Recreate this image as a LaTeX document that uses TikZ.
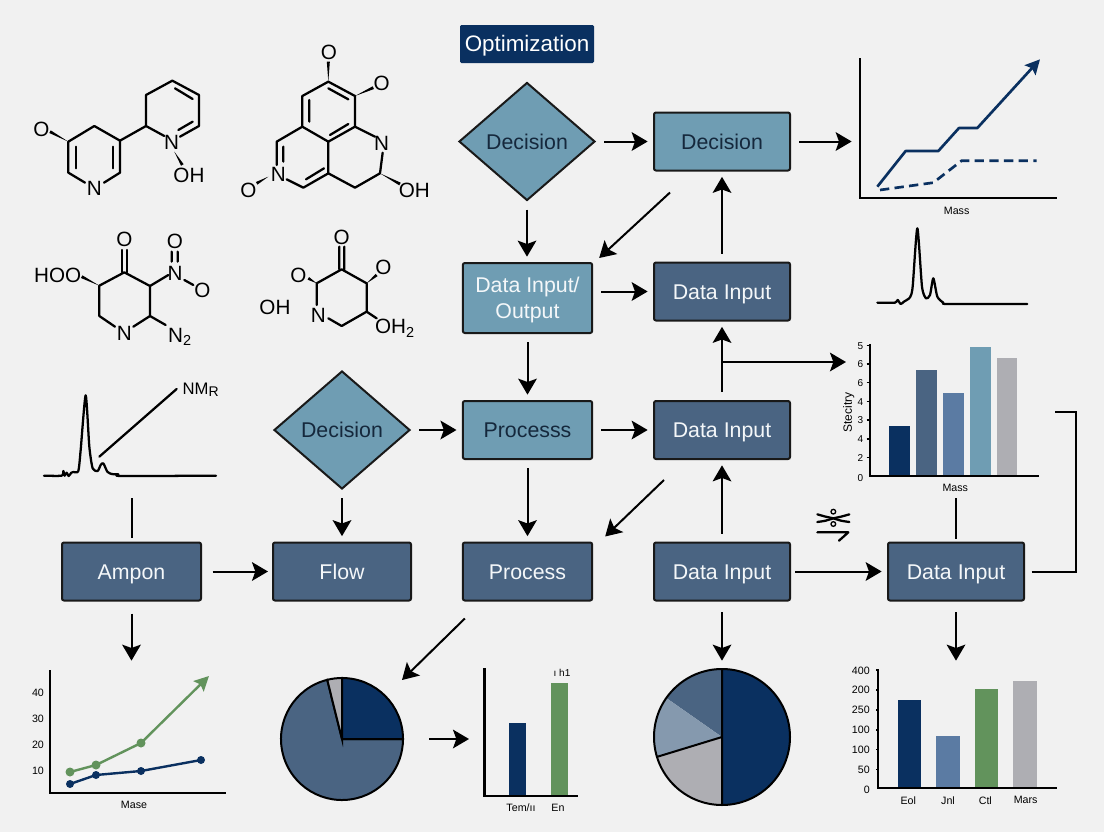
\documentclass[tikz,border=0pt]{standalone}
\usepackage{fontspec}
\setmainfont{Liberation Sans}
\usetikzlibrary{arrows.meta,calc,positioning,shapes.geometric}
\definecolor{pagegrey}{HTML}{F1F1F1}
\definecolor{navyblue}{HTML}{0A3060}
\definecolor{slateblue}{HTML}{4A6482}
\definecolor{midblue}{HTML}{5B7BA3}
\definecolor{paleblue}{HTML}{8599AE}
\definecolor{tealblue}{HTML}{6F9DB3}
\definecolor{softgrey}{HTML}{AEAEB3}
\definecolor{leafgreen}{HTML}{62935C}
\definecolor{inkdark}{HTML}{15283C}
\newcommand{\wedgebond}[2]{\fill (#1) -- ($(#2)!3.4pt!90:(#1)$) -- ($(#2)!3.4pt!-90:(#1)$) -- cycle;}
\tikzset{
  flowbox/.style={draw=black!90, line width=1.5pt, rounded corners=1.5pt, minimum width=102pt, minimum height=43.5pt, inner sep=0pt, align=center, font=\fontsize{16}{19.5}\selectfont},
  capcentre/.style={text height=11.5pt, text depth=0pt},
  darkbox/.style={flowbox, capcentre, fill=slateblue, text=white!92!tealblue},
  lightbox/.style={flowbox, capcentre, fill=tealblue, text=inkdark},
  ioflow/.style={flowbox, fill=tealblue, text=white!92!tealblue, minimum width=97pt, minimum height=52.5pt, text depth=0pt},
  procbox/.style={flowbox, minimum width=97pt},
  choice/.style={diamond, capcentre, aspect=1.15, draw=black!90, line width=1.5pt, fill=tealblue, text=inkdark, minimum width=102pt, minimum height=88.5pt, inner sep=0pt, font=\fontsize{16}{19.5}\selectfont},
  flow/.style={line width=1.5pt, -{Stealth[length=12pt,width=14pt,inset=2.5pt]}},
  gapped/.style={flow, shorten <=6pt, shorten >=4pt},
  link/.style={line width=1.5pt},
  atom/.style={inner sep=0pt, font=\fontsize{15.5}{18}\selectfont},
  bond/.style={line width=1.7pt, line cap=round, line join=round},
  trace/.style={line width=1.7pt, line join=round, line cap=round},
  axis/.style={line width=1.6pt},
  smalllab/.style={inner sep=0pt, font=\fontsize{8}{10}\selectfont},
  tinylab/.style={inner sep=0pt, font=\fontsize{7.5}{9}\selectfont}
}
\begin{document}
\begin{tikzpicture}[x=0.75pt, y=-0.75pt, node distance=48pt]
\fill[pagegrey] (0,0) rectangle (1104,832);
\useasboundingbox (0,0) rectangle (1104,832);

% flow chart
\node[capcentre, fill=navyblue, text=white, rounded corners=1pt, minimum width=100.5pt, minimum height=28.5pt, inner sep=0pt, font=\fontsize{16.8}{21}\selectfont] (optim) at (527,44) {Optimization};
\node[choice] (decA) at (527,141.5) {Decision};
\node[lightbox] (decB) at (722,141.5) {Decision};
\node[ioflow] (dataio) at (527.5,298) {Data Input/\\Output};
\node[darkbox] (dataA) at (722,291.5) {Data Input};
\node[lightbox, procbox] (procA) at (527.5,430) {Processs};
\node[darkbox] (dataB) at (722,430) {Data Input};
\node[choice] (decC) at (342,430) {Decision};
\node[darkbox, procbox] (procB) at (527.5,571.5) {Process};
\node[darkbox, minimum width=103.5pt] (flowbox) at (342,571.5) {Flow};
\node[darkbox, minimum width=104.25pt] (ampon) at (131.5,571.5) {Ampon};
\node[darkbox] (dataC) at (722,571.5) {Data Input};
\node[darkbox, right=72pt of dataC] (dataD) {Data Input};

\coordinate (chartIn) at (857,141.5);
\coordinate (barIn) at (846,362);
\coordinate (branch) at (722,362);
\coordinate (bracketEnd) at (1055,412);
\coordinate (specFoot) at (131.5,498);
\coordinate (massFoot) at (dataD |- specFoot);
\coordinate (lineIn) at (131.5,666);
\coordinate (pieTwoIn) at (722,666);
\coordinate (barsIn) at (dataD |- lineIn);
\coordinate (pieIn) at (402,680);
\coordinate (pieOut) at (429,739);
\coordinate (slimIn) at (469,739);

\draw[gapped] (decA) -- (decB);
\draw[gapped] (decB) -- (chartIn);
\draw[gapped] (decA) -- (dataio.north -| decA);
\draw[flow] ([shift={(17,21)}]decB.south west) -- ([shift={(6,-4)}]dataio.north east);
\draw[gapped] (dataio.east |- dataA) -- (dataA);
\draw[gapped] (dataA) -- (decB);
\draw[gapped] (dataio) -- (procA);
\draw[gapped] (dataB) -- (dataA);
\draw[flow] (branch) -- (barIn);
\draw[gapped] (procA) -- (dataB);
\draw[gapped] (decC) -- (procA);
\draw[gapped] (procA) -- (procB);
\draw[flow] ([shift={(11,20)}]dataB.south west) -- ([shift={(12,-5)}]procB.north east);
\draw[gapped] (dataC) -- (dataB);
\draw[gapped] (decC) -- (flowbox);
\draw[flow, shorten <=8pt, shorten >=3pt] (ampon) -- (flowbox);
\draw[gapped, shorten <=3pt] (dataC) -- (dataD);
\draw[link] ([xshift=5pt]dataD.east) -- ++(44,0) |- (bracketEnd);
\draw[link, shorten >=3pt] (specFoot) -- (ampon);
\draw[link, shorten >=2pt] (massFoot) -- (dataD);
\draw[gapped, shorten <=9pt] (ampon) -- (lineIn);
\draw[gapped, shorten <=8pt] (dataC) -- (pieTwoIn);
\draw[gapped, shorten <=8pt] (dataD) -- (barsIn);
\draw[flow] ([shift={(3,17)}]procB.south west) -- (pieIn);
\draw[flow] (pieOut) -- (slimIn);

% molecules
\begin{scope}[shift={(0,20)}, scale=1/3]
\draw[bond] (255,488) -- (205,458) -- (205,365) -- (283,318) -- (360,362) -- (360,458) -- (312,488);
\draw[bond] (228,380) -- (228,445) (338,380) -- (338,445);
\draw[bond] (360,362) -- (438,318) -- (438,225) -- (517,182) -- (597,225) -- (597,318) -- (540,350);
\draw[bond] (438,318) -- (493,348) (525,205) -- (578,237) (578,305) -- (535,330);
\wedgebond{205,365}{150,335}
\wedgebond{523,395}{547,435}
\node[atom] (oneO) at (124,327) {O};
\node[atom] (oneN) at (283,505) {N};
\node[atom] (oneNb) at (515,368) {N};
\node[atom] (oneOH) at (567,467) {OH};

\draw[bond] (985,185) -- (1065,228) -- (1065,320) -- (985,365) -- (907,320) -- (907,228) -- cycle;
\draw[bond] (985,205) -- (1045,238) (1045,312) -- (990,345) (928,240) -- (928,305);
\draw[bond] (907,320) -- (830,365) -- (830,435) (850,380) -- (850,425);
\draw[bond] (985,365) -- (985,460) -- (910,503) -- (860,478) (972,445) -- (918,478);
\draw[bond] (985,460) -- (1065,503) -- (1140,460) (1065,320) -- (1125,350);
\draw[bond] (1140,460) -- (1148,398);
\wedgebond{985,185}{985,125}
\wedgebond{1065,228}{1120,203}
\wedgebond{1140,460}{1200,492}
\wedgebond{805,470}{770,490}
\node[atom] (twoO) at (987,98) {O};
\node[atom] (twoOb) at (1145,190) {O};
\node[atom] (twoN) at (1145,370) {N};
\node[atom] (twoOH) at (1243,512) {OH};
\node[atom] (twoNb) at (835,463) {N};
\node[atom] (twoOc) at (745,510) {O};

\draw[bond] (345,920) -- (298,888) -- (298,797) -- (373,757) -- (450,798) -- (450,888) -- (400,920);
\draw[bond] (365,757) -- (365,690) (380,757) -- (380,690);
\draw[bond] (450,798) -- (505,765) (515,725) -- (515,695) (533,725) -- (533,695);
\draw[bond] (553,780) -- (580,795) (450,888) -- (497,915);
\wedgebond{298,797}{245,770}
\node[atom] (threeHO) at (173,765) {HOO};
\node[atom] (threeO) at (373,658) {O};
\node[atom] (threeOb) at (525,665) {O};
\node[atom] (threeN) at (525,760) {N};
\node[atom] (threeOc) at (607,812) {O};
\node[atom] (threeNb) at (373,940) {N};
\node[atom] (threeN2) at (540,950) {N\textsubscript{2}};

\draw[bond] (950,855) -- (950,790) -- (1025,748) -- (1100,790) -- (1100,875) -- (1025,918) -- (985,895);
\draw[bond] (1018,748) -- (1018,680) (1033,748) -- (1033,680) (1100,875) -- (1130,895);
\wedgebond{950,790}{925,775}
\wedgebond{1100,790}{1130,765}
\node[atom] (fourO) at (1025,652) {O};
\node[atom] (fourOb) at (895,765) {O};
\node[atom] (fourOc) at (1150,743) {O};
\node[atom] (fourOH) at (825,862) {OH};
\node[atom] (fourN) at (955,885) {N};
\node[atom] (fourOH2) at (1185,925) {OH\textsubscript{2}};
\end{scope}

% left spectrum
\begin{scope}[shift={(30,370)}, scale=1/3]
\draw[trace] plot[smooth, tension=0.4] coordinates {(42,317) (95,317) (100,303) (104,317) (110,308) (116,318) (124,308) (130,306) (145,303) (152,240) (167,76) (178,230) (188,295) (203,303) (212,285) (220,280) (232,305) (245,312) (265,313) (275,318) (558,317)};
\draw[trace] (208,260) -- (440,57);
\node[inner sep=0pt, font=\fontsize{12.5}{14}\selectfont] (nmr) at (512,58) {NM\raisebox{-1.5pt}{\fontsize{10.5}{10}\selectfont R}};
\end{scope}

% right column charts
\begin{scope}[shift={(800,40)}, scale=1/3]
\draw[axis] (179,55) -- (179,475) -- (770,475);
\draw[navyblue, line width=2pt, line join=round, -{Stealth[length=11pt,width=11pt,inset=2pt]}] (232,440) -- (317,333) -- (415,333) -- (477,264) -- (532,264) -- (720,58);
\draw[navyblue, line width=2pt, dashed, dash pattern=on 7pt off 4pt] (240,450) -- (400,428) -- (485,362) -- (710,362);
\node[smalllab] (massA) at (470,512) {Mass};

\draw[trace] plot[smooth, tension=0.4] coordinates {(232,788) (285,788) (293,780) (302,792) (312,785) (330,772) (338,740) (352,565) (366,740) (378,775) (390,765) (400,715) (412,770) (430,788) (445,792) (682,792)};

\draw[axis] (209,912) -- (209,1307) -- (718,1307);
\foreach \lft/\top/\col in {268/1158/navyblue, 348/990/slateblue, 430/1058/midblue, 510/922/tealblue, 590/955/softgrey}
  \fill[\col] (\lft,\top) rectangle (\lft+62,1304);
\foreach \tk/\lab in {917/5, 972/6, 1028/6, 1085/4, 1140/3, 1197/4, 1253/2, 1313/0}
  \node[tinylab] (tick\tk) at (181,\tk) {\lab};
\foreach \tk in {917, 972, 1028, 1085, 1140, 1197, 1253}
  \draw[line width=1.2pt] (200,\tk) -- (209,\tk);
\node[tinylab, rotate=90, font=\fontsize{9}{10}\selectfont] (stab) at (146,1118) {Stecitry};
\node[smalllab] (massB) at (466,1345) {Mass};
\end{scope}

% small mark beside the last box
\begin{scope}[shift={(805,500)}, scale=1/3]
\draw[bond] plot[smooth] coordinates {(37,43) (62,50) (85,55) (108,62) (133,66)};
\draw[bond] plot[smooth] coordinates {(37,66) (62,62) (85,55) (108,50) (133,43)};
\draw[line width=1pt] (85,35) circle (7) (85,72) circle (7);
\draw[bond] (37,97) -- (130,97) -- (102,122);
\end{scope}

% line chart
\draw[axis] (50,670) -- (50,793) -- (226,793);
\draw[leafgreen, line width=1.8pt, -{Stealth[length=11pt,width=11pt,inset=2pt]}] (70,772) -- (96,765) -- (141,743) -- (209,676);
\draw[navyblue, line width=1.8pt] (70,784) -- (96,775) -- (141,771) -- (201,760);
\foreach \px/\py in {70/772, 96/765, 141/743}
  \fill[leafgreen] (\px,\py) circle (4.5);
\foreach \px/\py in {70/784, 96/775, 141/771, 201/760}
  \fill[navyblue] (\px,\py) circle (4);
\foreach \py/\lab in {693/40, 719/30, 745/20, 771/10}
  \node[smalllab] (left\lab) at (38,\py) {\lab};
\node[smalllab] (mase) at (134,805) {Mase};

% first pie
\begin{scope}[shift={(342,739)}, y=0.75pt]
\filldraw[fill=slateblue, line width=1.5pt] (0,0) -- (104:61) arc[start angle=104, end angle=360, radius=61] -- cycle;
\filldraw[fill=softgrey, line width=1.5pt] (0,0) -- (90:61) arc[start angle=90, end angle=104, radius=61] -- cycle;
\filldraw[fill=navyblue, line width=1.5pt] (0,0) -- (0:61) arc[start angle=0, end angle=90, radius=61] -- cycle;
\end{scope}

% slim bars
\fill[navyblue] (509,723) rectangle (526,795);
\fill[leafgreen] (551,683) rectangle (568,795);
\draw[axis] (484.5,668) -- (484.5,796) -- (578,796);
\node[smalllab] (slimA) at (521,808) {Tem/ıı};
\node[smalllab] (slimB) at (558,808) {En};
\node[tinylab] (slimC) at (562,673) {ı h1};

% second pie
\begin{scope}[shift={(722,737)}, y=0.75pt]
\fill[navyblue] (0,0) -- (-90:68) arc[start angle=-90, end angle=90, radius=68] -- cycle;
\fill[slateblue] (0,0) -- (90:68) arc[start angle=90, end angle=145, radius=68] -- cycle;
\fill[paleblue] (0,0) -- (145:68) arc[start angle=145, end angle=197, radius=68] -- cycle;
\fill[softgrey] (0,0) -- (197:68) arc[start angle=197, end angle=270, radius=68] -- cycle;
\draw[line width=1.5pt] (0,0) circle[radius=68];
\draw[line width=1.5pt] (90:68) -- (-90:68) (0,0) -- (197:68);
\end{scope}

% last bars
\begin{scope}[shift={(620,640)}, scale=1/3]
\foreach \lft/\top/\col in {833/180/navyblue, 949/288/midblue, 1065/146/leafgreen, 1180/123/softgrey}
  \fill[\col] (\lft,\top) rectangle (\lft+70,442);
\draw[axis] (775,88) -- (775,445) -- (1310,445);
\foreach \tk/\lab in {92/400, 150/200, 210/250, 270/100, 328/100, 390/50, 450/0}
  \node[smalllab, anchor=east] (bar\tk) at (750,\tk) {\lab};
\foreach \tk in {90, 150, 210, 270, 328, 388}
  \draw[line width=1pt] (768,\tk) -- (775,\tk);
\node[smalllab] (barE) at (865,481) {Eol};
\node[smalllab] (barJ) at (984,481) {Jnl};
\node[smalllab] (barC) at (1096,481) {Ctl};
\node[smalllab] (barM) at (1217,481) {Mars};
\end{scope}
\end{tikzpicture}
\end{document}
